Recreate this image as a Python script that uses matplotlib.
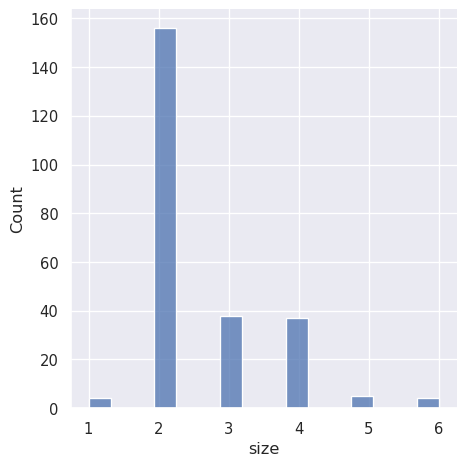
import numpy as np
import pandas as pd
import seaborn as sns
import matplotlib
matplotlib.use("Agg")
import matplotlib.pyplot as plt

sizes = [1, 2, 3, 4, 5, 6]
counts = [4, 156, 38, 37, 5, 4]

sns.set_theme()
df = pd.DataFrame({"size": np.repeat(sizes, counts)})
g = sns.displot(data=df, x="size", height=5)
g.savefig("out.png", dpi=96.8)
